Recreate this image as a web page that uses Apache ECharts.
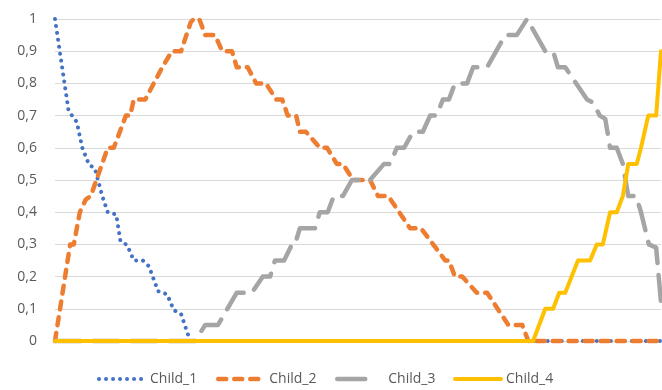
<!DOCTYPE html>
<html>
<head>
<meta charset="utf-8">
<script src="https://cdn.jsdelivr.net/npm/echarts@6/dist/echarts.min.js"></script>
<style>html,body{margin:0;padding:0;background:#fff}#chart{width:662px;height:390px}</style>
</head>
<body>
<div id="chart"></div>
<script>
// x: relative time (0..100), y: membership value
const seriesNames = ['Child_1', 'Child_2', 'Child_3', 'Child_4'];
const yTicks = [0, 0.1, 0.2, 0.3, 0.4, 0.5, 0.6, 0.7, 0.8, 0.9, 1];

const child1X = [0, 2.2, 2.8, 3.6, 4.5, 5.6, 6.6, 7.8, 8.7, 10.1, 10.8, 11.9, 13.0, 14.5, 15.5, 17.0, 18.5, 19.6, 20.8, 22.3, 100];
const child1Y = [1, 0.72, 0.70, 0.68, 0.60, 0.548, 0.535, 0.45, 0.40, 0.393, 0.31, 0.298, 0.25, 0.25, 0.232, 0.155, 0.145, 0.096, 0.084, 0, 0];

const child2X = [0, 2.5, 3.1, 4.1, 5.1, 5.9, 8.7, 9.7, 11.7, 12.4, 13.0, 14.9, 17.7, 19.3, 20.8, 22.4, 22.9, 23.8, 24.8, 26.4, 27.6, 29.2, 30.0, 31.8, 33.2, 34.8, 36.5, 37.5, 38.4, 39.8, 40.4, 41.4, 43.7, 44.9, 46.5, 47.5, 49.2, 52.0, 53.3, 55.0, 58.6, 60.4, 64.4, 65.0, 66.0, 67.2, 69.6, 71.3, 74.8, 77.1, 78.1, 100];
const child2Y = [0, 0.3, 0.3, 0.4, 0.44, 0.45, 0.6, 0.6, 0.7, 0.7, 0.75, 0.75, 0.85, 0.9, 0.9, 0.99, 1, 1, 0.95, 0.95, 0.9, 0.9, 0.85, 0.85, 0.8, 0.8, 0.75, 0.75, 0.7, 0.7, 0.65, 0.65, 0.6, 0.6, 0.55, 0.55, 0.5, 0.5, 0.45, 0.45, 0.35, 0.35, 0.25, 0.25, 0.2, 0.2, 0.15, 0.15, 0.05, 0.05, 0, 0];

const child3X = [0, 23.1, 24.8, 26.9, 30.0, 32.5, 34.3, 35.5, 36.3, 37.8, 39.1, 39.6, 40.4, 42.9, 43.7, 45.0, 46.0, 47.5, 49.0, 52.0, 54.3, 55.3, 56.4, 57.6, 59.1, 60.7, 61.9, 63.0, 64.0, 65.0, 66.0, 68.0, 69.0, 71.3, 74.3, 76.2, 77.9, 80.9, 82.2, 83.0, 84.2, 87.8, 88.8, 89.9, 90.8, 91.6, 92.7, 93.7, 94.6, 95.9, 96.7, 98.0, 99.2, 100];
const child3Y = [0, 0, 0.05, 0.05, 0.15, 0.15, 0.2, 0.2, 0.25, 0.25, 0.3, 0.3, 0.35, 0.35, 0.4, 0.4, 0.45, 0.45, 0.5, 0.5, 0.55, 0.55, 0.6, 0.6, 0.65, 0.65, 0.7, 0.7, 0.75, 0.75, 0.8, 0.8, 0.85, 0.85, 0.95, 0.95, 1, 0.9, 0.9, 0.85, 0.85, 0.75, 0.74, 0.7, 0.69, 0.6, 0.6, 0.55, 0.45, 0.45, 0.4, 0.3, 0.29, 0.12];

const child4X = [0, 78.9, 80.9, 82.2, 83.2, 84.2, 86.3, 88.3, 89.4, 90.4, 91.6, 92.7, 93.7, 94.6, 96.0, 96.7, 97.9, 99.2, 100];
const child4Y = [0, 0, 0.1, 0.1, 0.15, 0.15, 0.25, 0.25, 0.3, 0.3, 0.4, 0.4, 0.45, 0.55, 0.55, 0.6, 0.7, 0.7, 0.9];

const pairs = (xs, ys) => xs.map((x, i) => [x, ys[i]]);
const colors = ['#4472C4', '#ED7D31', '#A5A5A5', '#FFC000'];
const dashes = [[0.01, 7], [8, 8], [26, 12], 'solid'];
const legendDashes = [[0.01, 7], [8, 8], [28, 40], 'solid'];
const widths = [4, 4.5, 4.5, 4];
const datasets = [pairs(child1X, child1Y), pairs(child2X, child2Y), pairs(child3X, child3Y), pairs(child4X, child4Y)];
const legendLeft = [97, 216, 335, 453];

const chart = echarts.init(document.getElementById('chart'), null, { renderer: 'canvas' });
chart.setOption({
  animation: false,
  backgroundColor: '#ffffff',
  textStyle: { fontFamily: 'Open Sans' },
  grid: { left: 55, right: 1, top: 19, bottom: 49, containLabel: false },
  legend: seriesNames.map((n, i) => ({
    data: [n],
    left: legendLeft[i],
    top: 372,
    padding: 0,
    itemWidth: 46,
    itemHeight: 14,
    itemGap: 5,
    itemStyle: { opacity: 0, borderWidth: 0 },
    lineStyle: { width: widths[i], type: legendDashes[i], cap: 'round' },
    textStyle: { color: '#595959', fontSize: 14, fontFamily: 'Open Sans' }
  })),
  xAxis: {
    type: 'value', min: 0, max: 100,
    axisLine: { show: true, lineStyle: { color: '#D9D9D9', width: 1 } },
    axisTick: { show: false }, axisLabel: { show: false }, splitLine: { show: false }
  },
  yAxis: {
    type: 'value', min: yTicks[0], max: yTicks[yTicks.length - 1], interval: 0.1,
    axisLine: { show: false }, axisTick: { show: false },
    axisLabel: {
      color: '#595959', fontSize: 14, margin: 18, fontFamily: 'Open Sans',
      formatter: v => String(Math.round(v * 10) / 10).replace('.', ',')
    },
    splitLine: { show: true, lineStyle: { color: '#D9D9D9', width: 1 } }
  },
  series: seriesNames.map((n, i) => ({
    name: n,
    type: 'line',
    data: datasets[i],
    showSymbol: false,
    symbol: 'none',
    clip: false,
    color: colors[i],
    lineStyle: { color: colors[i], width: widths[i], type: dashes[i], cap: 'round', join: 'round' },
    z: 2 + i
  }))
});
</script>
</body>
</html>
